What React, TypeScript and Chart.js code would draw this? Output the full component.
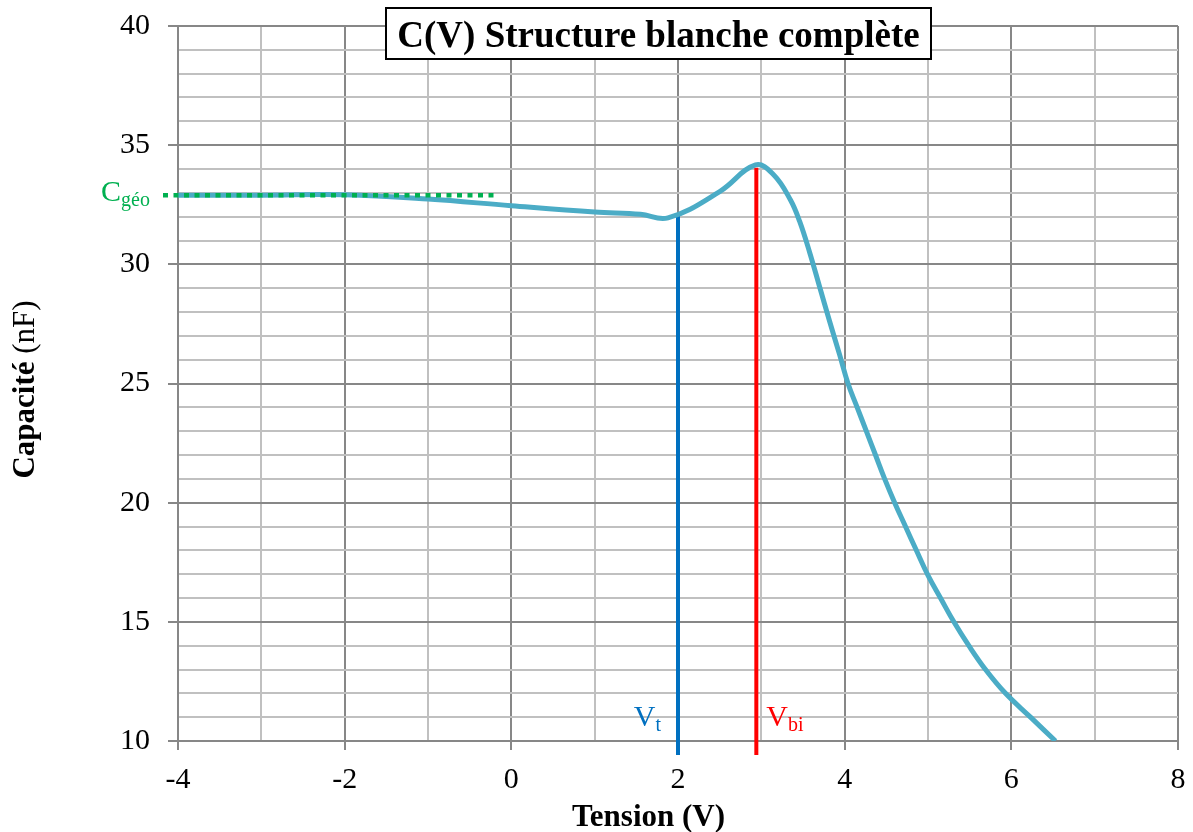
import React, { useEffect, useRef } from "react";
import { Chart, registerables } from "chart.js";

Chart.register(...registerables);

const FONT = '"Liberation Serif", "Times New Roman", serif';

// C(V) curve (Tension V, Capacité nF)
const tension = [-4, -3, -2, -1, 0, 1, 1.55, 1.88, 2.5, 2.93, 3.15, 3.35, 3.46, 3.58, 3.7, 3.82, 3.94, 4.04, 4.15, 4.26, 4.37, 4.48, 4.6, 4.73, 4.86, 5.0, 5.15, 5.31, 5.49, 5.69, 5.93, 6.23, 6.53];
const capacite = [32.9, 32.9, 32.92, 32.74, 32.46, 32.2, 32.1, 31.95, 33.05, 34.17, 33.75, 32.7, 31.8, 30.5, 29.05, 27.6, 26.2, 25.0, 24.0, 23.0, 22.0, 21.0, 20.0, 19.0, 18.0, 16.95, 16.0, 15.0, 14.0, 13.0, 12.0, 11.0, 10.0];

// Reference markers
const cgeoX = [-4.18, -0.18];
const cgeoY = 32.9;
const vt = 2.0;
const vtTop = 32.05;
const vbi = 2.94;
const vbiTop = 34.05;
const markerBottom = 9.41;

const xTicks = { min: -4, max: 8, step: 1, labelEvery: 2 };
const yTicks = { min: 10, max: 40, step: 1, labelEvery: 5 };

const titleText = "C(V) Structure blanche complète";
const xTitle = "Tension (V)";
const yTitleBold = "Capacité";
const yTitleRegular = " (nF)";

const isMult = (v: number, m: number) => Math.abs(v / m - Math.round(v / m)) < 1e-6;

const MAJOR = "#878787";
const MINOR = "#C0C0C0";

const textPlugin = {
  id: "customText",
  afterDraw(chart: any) {
    const ctx = chart.ctx as CanvasRenderingContext2D;
    const xs = chart.scales.x;
    const ys = chart.scales.y;
    const area = chart.chartArea;
    ctx.save();

    // Title box
    const bx0 = 386, by0 = 8, bx1 = 931, by1 = 59;
    ctx.fillStyle = "#ffffff";
    ctx.fillRect(bx0, by0, bx1 - bx0, by1 - by0);
    ctx.lineWidth = 2;
    ctx.strokeStyle = "#000000";
    ctx.strokeRect(bx0, by0, bx1 - bx0, by1 - by0);
    ctx.fillStyle = "#000000";
    ctx.font = `bold 37px ${FONT}`;
    ctx.textAlign = "center";
    ctx.textBaseline = "alphabetic";
    ctx.fillText(titleText, (bx0 + bx1) / 2, 47);

    // X axis title
    ctx.font = `bold 31px ${FONT}`;
    ctx.textAlign = "center";
    ctx.fillText(xTitle, 648.5, 826);

    // Y axis title (mixed weights)
    ctx.save();
    ctx.translate(34, (area.top + area.bottom) / 2 + 6);
    ctx.rotate(-Math.PI / 2);
    ctx.textAlign = "left";
    ctx.font = `bold 31px ${FONT}`;
    const wb = ctx.measureText(yTitleBold).width;
    ctx.font = `31px ${FONT}`;
    const wr = ctx.measureText(yTitleRegular).width;
    const start = -(wb + wr) / 2;
    ctx.font = `bold 31px ${FONT}`;
    ctx.fillText(yTitleBold, start, 0);
    ctx.font = `31px ${FONT}`;
    ctx.fillText(yTitleRegular, start + wb, 0);
    ctx.restore();

    const drawSub = (main: string, sub: string, x: number, y: number, color: string, align: "left" | "right") => {
      ctx.fillStyle = color;
      ctx.textAlign = "left";
      ctx.font = `30px ${FONT}`;
      const wm = ctx.measureText(main).width;
      ctx.font = `20px ${FONT}`;
      const ws = ctx.measureText(sub).width;
      const x0 = align === "left" ? x : x - wm - ws;
      ctx.font = `30px ${FONT}`;
      ctx.fillText(main, x0, y);
      ctx.font = `20px ${FONT}`;
      ctx.fillText(sub, x0 + wm, y + 5);
    };

    // C géo label
    drawSub("C", "géo", xs.getPixelForValue(cgeoX[0]) - 13, ys.getPixelForValue(cgeoY) + 6, "#00B050", "right");
    // Vt label
    drawSub("V", "t", xs.getPixelForValue(vt) - 17, ys.getPixelForValue(yTicks.min) - 15, "#0070C0", "right");
    // Vbi label
    drawSub("V", "bi", xs.getPixelForValue(vbi) + 10, ys.getPixelForValue(yTicks.min) - 15, "#FF0000", "left");

    ctx.restore();
  },
};

export default function App() {
  const ref = useRef<HTMLCanvasElement | null>(null);

  useEffect(() => {
    if (!ref.current) return;
    const curve = tension.map((x, i) => ({ x, y: capacite[i] }));
    const chart = new Chart(ref.current, {
      type: "line",
      data: {
        datasets: [
          {
            label: "Cgeo",
            data: cgeoX.map((x) => ({ x, y: cgeoY })),
            borderColor: "#00B050",
            borderWidth: 4.5,
            borderDash: [5, 5.5],
            pointRadius: 0,
            clip: false as any,
            order: 0,
          },
          {
            label: "C(V)",
            data: curve,
            borderColor: "#4BACC6",
            borderWidth: 5,
            pointRadius: 0,
            tension: 0.4,
            order: 1,
          },
          {
            label: "Vt",
            data: [
              { x: vt, y: vtTop },
              { x: vt, y: markerBottom },
            ],
            borderColor: "#0070C0",
            borderWidth: 4,
            pointRadius: 0,
            clip: false as any,
            order: 2,
          },
          {
            label: "Vbi",
            data: [
              { x: vbi, y: vbiTop },
              { x: vbi, y: markerBottom },
            ],
            borderColor: "#FF0000",
            borderWidth: 4,
            pointRadius: 0,
            clip: false as any,
            order: 3,
          },
        ],
      },
      options: {
        responsive: false,
        animation: false,
        events: [],
        layout: { padding: { top: 26, right: 15, left: 0, bottom: 0 } },
        plugins: {
          legend: { display: false },
          title: { display: false },
          tooltip: { enabled: false },
        },
        scales: {
          x: {
            type: "linear",
            min: xTicks.min,
            max: xTicks.max,
            afterFit: (s: any) => {
              s.height = 91;
              s.paddingLeft = 0;
              s.paddingRight = 0;
            },
            ticks: {
              stepSize: xTicks.step,
              autoSkip: false,
              maxRotation: 0,
              padding: 12,
              color: "#000000",
              font: { family: FONT, size: 30 },
              callback: (v: any) => (isMult(Number(v), xTicks.labelEvery) ? String(v) : ""),
            },
            grid: {
              lineWidth: 2,
              tickLength: 9,
              color: (c: any) => (c.tick && isMult(c.tick.value, xTicks.labelEvery) ? MAJOR : MINOR),
              tickColor: (c: any) => (c.tick && isMult(c.tick.value, xTicks.labelEvery) ? MAJOR : "rgba(0,0,0,0)"),
            },
            border: { display: true, color: MAJOR, width: 2 },
          },
          y: {
            type: "linear",
            min: yTicks.min,
            max: yTicks.max,
            afterFit: (s: any) => {
              s.width = 178;
              s.paddingTop = 0;
              s.paddingBottom = 0;
            },
            ticks: {
              stepSize: yTicks.step,
              autoSkip: false,
              padding: 18,
              color: "#000000",
              font: { family: FONT, size: 30 },
              callback: (v: any) => (isMult(Number(v), yTicks.labelEvery) ? String(v) : ""),
            },
            grid: {
              lineWidth: 2,
              tickLength: 10,
              color: (c: any) => (c.tick && isMult(c.tick.value, yTicks.labelEvery) ? MAJOR : MINOR),
              tickColor: (c: any) => (c.tick && isMult(c.tick.value, yTicks.labelEvery) ? MAJOR : "rgba(0,0,0,0)"),
            },
            border: { display: true, color: MAJOR, width: 2 },
          },
        },
      },
      plugins: [textPlugin],
    } as any);
    return () => chart.destroy();
  }, []);

  return (
    <div style={{ position: "absolute", left: 0, top: 0, width: 1193, height: 832, background: "#ffffff" }}>
      <canvas ref={ref} width={1193} height={832} style={{ display: "block", width: 1193, height: 832 }} />
    </div>
  );
}
